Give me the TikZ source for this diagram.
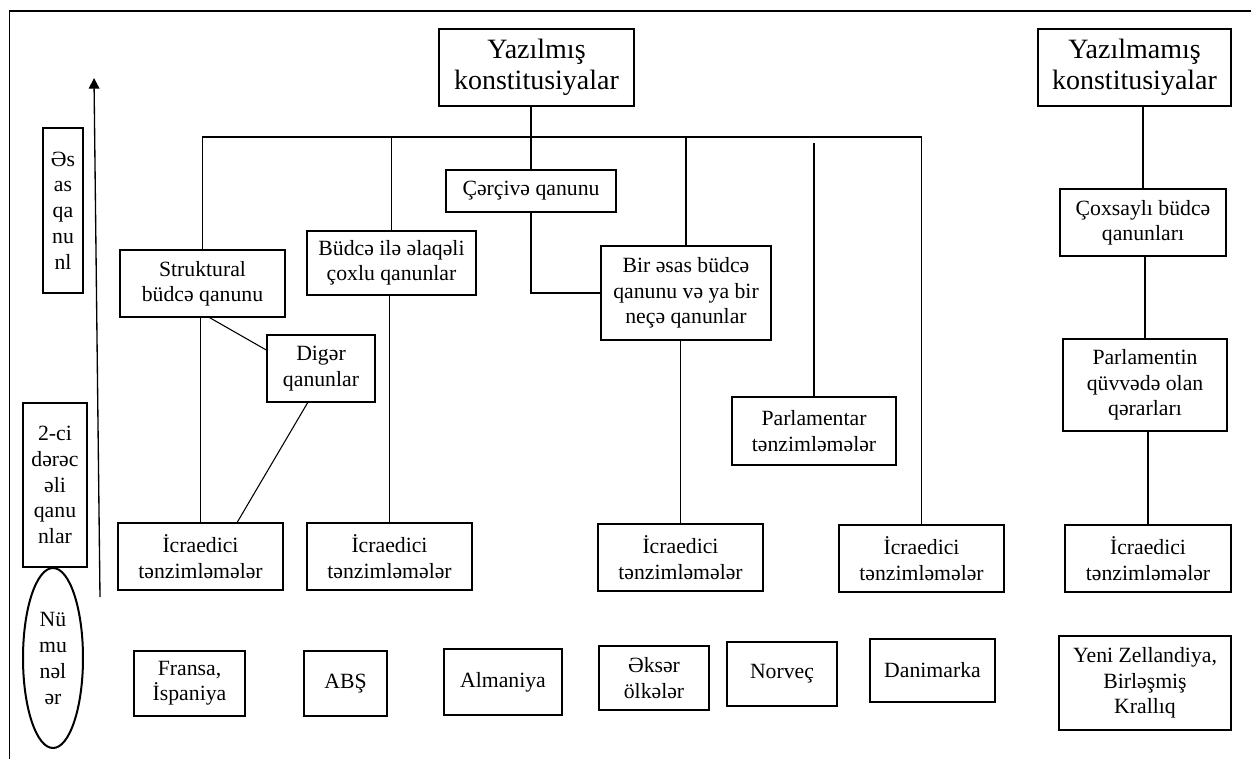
\documentclass[tikz,border=0pt]{standalone}
\usepackage{fontspec}
\setmainfont{Liberation Serif}
\usetikzlibrary{calc,shapes.geometric,arrows.meta}
\newcommand\pbox[7][box]{%
  \node[#1, minimum width={(#5-#3)*0.75pt}, minimum height={(#6-#4)*0.75pt}]
    (#2) at ({(#3+#5)/2},{(#4+#6)/2}) {#7};}
\begin{document}
\begin{tikzpicture}[x=0.75pt,y=-0.75pt,
  box/.style={draw, line width=1.5pt, inner sep=0pt, outer sep=0pt, align=center, font=\fontsize{16.3}{19}\selectfont},
  bigbox/.style={box, font=\fontsize{21}{23}\selectfont},
  link/.style={line width=0.8pt},
]
\useasboundingbox (0,0) rectangle (1251,758);
\begin{scope}
\clip (0,0) rectangle (1251,758);
\draw[line width=1pt] (9.5,800) -- (9.5,11) -- (1300,11);
\end{scope}

% top level
\pbox[bigbox]{yaz}{439}{29}{634}{106}{Yazılmış\\konstitusiyalar}
\pbox[bigbox]{yzm}{1038}{29}{1231}{106}{Yazılmamış\\konstitusiyalar}

% main-law level
\pbox{cer}{446}{170}{616}{212}{Çərçivə qanunu}
\pbox{str}{120}{250}{285}{317}{Struktural\\büdcə qanunu}
\pbox{bud}{307}{231}{476}{295}{Büdcə ilə əlaqəli\\çoxlu qanunlar}
\pbox{bir}{601}{246}{771}{340}{Bir əsas büdcə\\qanunu və ya bir\\neçə qanunlar}
\pbox{cox}{1060}{189}{1226}{256}{Çoxsaylı büdcə\\qanunları}

% secondary level
\pbox{dig}{267}{335}{375}{402}{Digər\\qanunlar}
\pbox{par}{732}{397}{896}{465}{Parlamentar\\tənzimləmələr}
\pbox{pq}{1063}{339}{1227}{431}{Parlamentin\\qüvvədə olan\\qərarları}

\pbox{icr1}{118}{523}{283}{590}{İcraedici\\tənzimləmələr}
\pbox{icr2}{307}{523}{472}{590}{İcraedici\\tənzimləmələr}
\pbox{icr3}{598}{524}{763}{591}{İcraedici\\tənzimləmələr}
\pbox{icr4}{839}{525}{1004}{592}{İcraedici\\tənzimləmələr}
\pbox{icr5}{1065}{525}{1231}{592}{İcraedici\\tənzimləmələr}

% examples
\pbox{fra}{134}{651}{245}{716}{Fransa,\\İspaniya}
\pbox{abs}{304}{651}{387}{716}{ABŞ}
\pbox{alm}{444}{649}{562}{715}{Almaniya}
\pbox{eks}{599}{646}{709}{710}{Əksər\\ölkələr}
\pbox{nor}{727}{642}{837}{706}{Norveç}
\pbox{dan}{870}{639}{995}{702}{Danimarka}
\pbox{yeni}{1059}{636}{1231}{730}{Yeni Zellandiya,\\Birləşmiş\\Krallıq}

% side labels
\pbox[box, font=\fontsize{16.3}{19.3}\selectfont]{side1}{43}{128}{83}{293}{Əs\\as\\qa\\nu\\nl}
\pbox[box, font=\fontsize{16.3}{19.3}\selectfont]{side2}{23}{403}{87}{567}{2-ci\\dərəc\\əli\\qanu\\nlar}
\node[draw, ellipse, line width=1.5pt, inner sep=0pt, minimum width=45pt, minimum height=135pt, align=center, font=\fontsize{16.3}{19.5}\selectfont] (nu) at (53,658) {Nü\\mu\\nəl\\ər};

% arrow
\coordinate (aB) at (100,597);
\coordinate (aT) at (94,78);
\draw[line width=1pt,-{Triangle[width=8pt,length=8pt]}] (aB) -- (aT);

% connectors
\coordinate (bar) at (0,137);
\coordinate (bar2) at (0,143);
\draw[link] (str.north) |- (bar -| icr4.north) -- (icr4.north);
\draw[link] (bud.north) -- (bud.north |- bar);
\draw[link] (cer.north) -- (cer.north |- yaz.south);
\draw[link] (bir.north) -- (bir.north |- bar);
\draw[link] (par.north) -- (par.north |- bar2);
\draw[link] (cer.south) |- (bir.west);
\draw[link] (icr3.north) -- (icr3.north |- bir.south);
\draw[link] (icr1.north) -- (icr1.north |- str.south);
\draw[link] ($(str.south)+(6,0)$) -- ($(dig.north west)!0.23!(dig.south west)$);
\draw[link] ($(dig.south west)!0.38!(dig.south east)$) -- ($(icr1.north west)!0.72!(icr1.north east)$);
\draw[link] (icr2.north) -- (icr2.north |- bud.south);
\draw[link] (cox.north) -- (cox.north |- yzm.south);
\draw[link] (pq.north) -- (pq.north |- cox.south);
\draw[link] (icr5.north) -- (icr5.north |- pq.south);
\end{tikzpicture}
\end{document}
